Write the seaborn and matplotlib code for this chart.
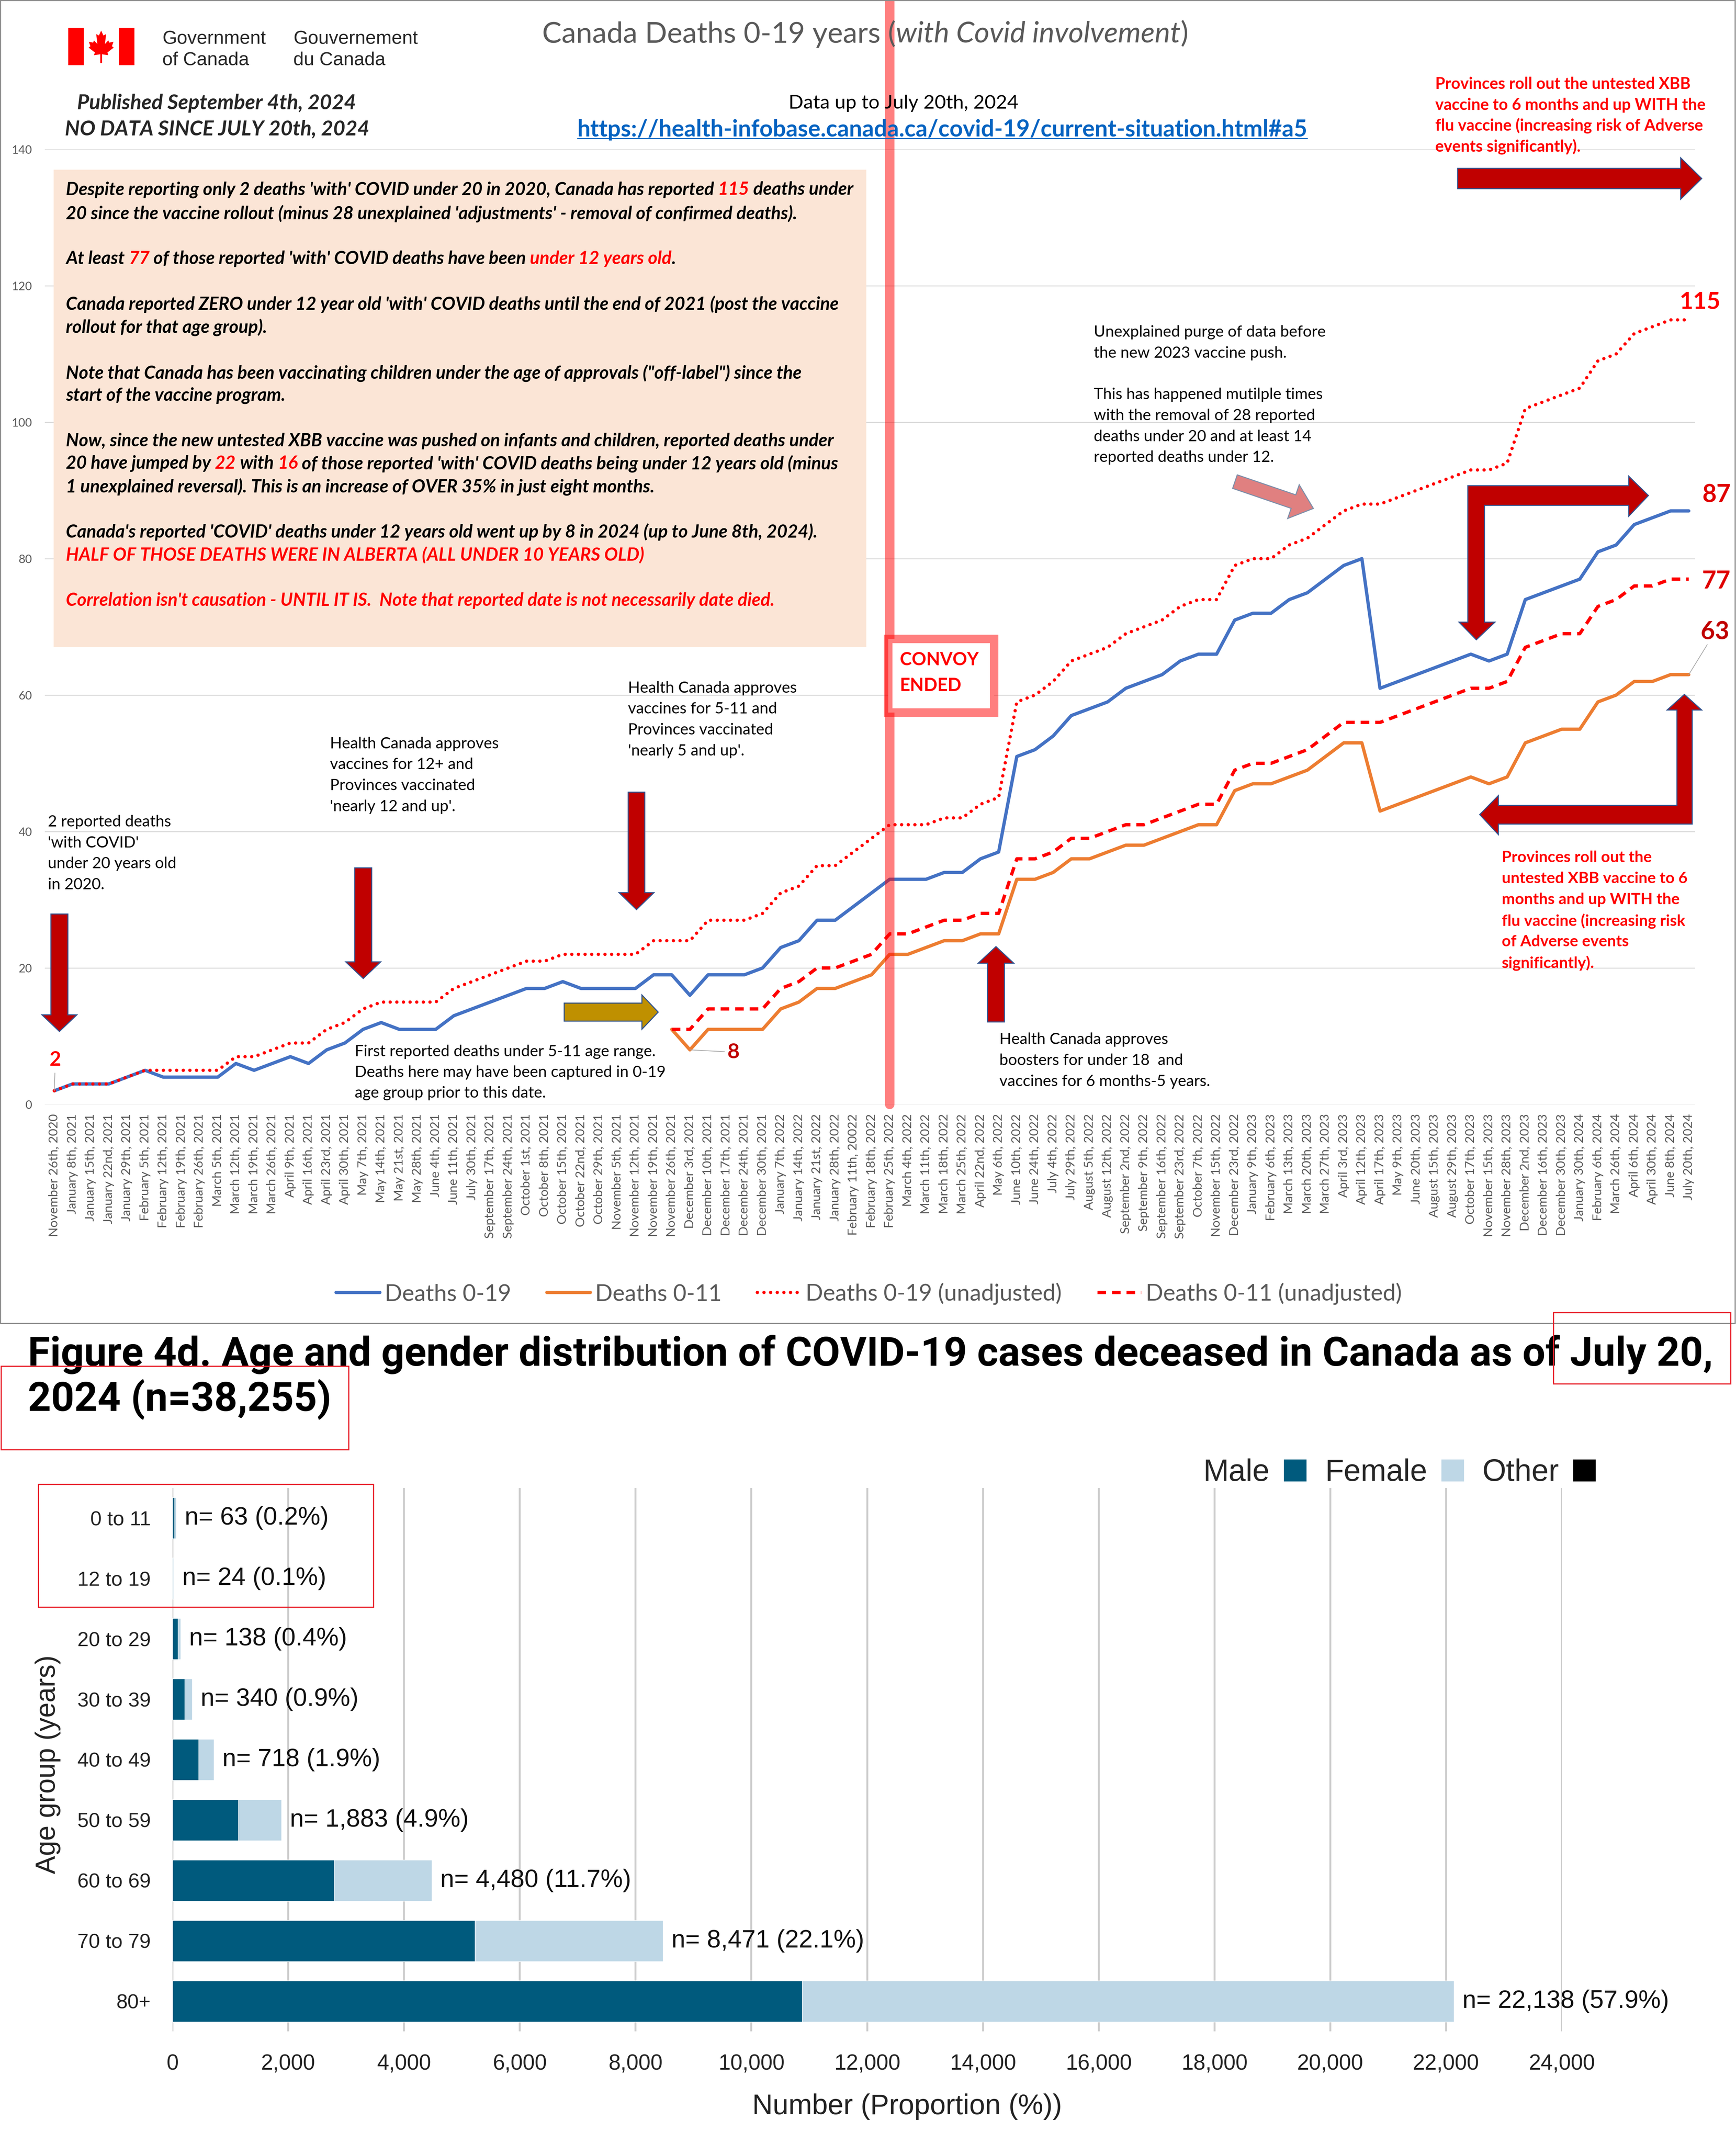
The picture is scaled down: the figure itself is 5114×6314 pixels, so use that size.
import matplotlib
matplotlib.use("Agg")
import matplotlib.pyplot as plt
from matplotlib import font_manager as fm
from matplotlib.patches import Polygon, Rectangle, Patch
from matplotlib.lines import Line2D
import numpy as np
import pandas as pd
import seaborn as sns

nan = np.nan
W, H = 5114, 6314

# ----------------------------------------------------------------- data
DATES = ["November 26th, 2020", "January 8th, 2021", "January 15th, 2021", "January 22nd, 2021",
         "January 29th, 2021", "February 5th, 2021", "February 12th, 2021", "February 19th, 2021",
         "February 26th, 2021", "March 5th, 2021", "March 12th, 2021", "March 19th, 2021",
         "March 26th, 2021", "April 9th, 2021", "April 16th, 2021", "April 23rd, 2021",
         "April 30th, 2021", "May 7th, 2021", "May 14th, 2021", "May 21st, 2021", "May 28th, 2021",
         "June 4th, 2021", "June 11th, 2021", "July 30th, 2021", "September 17th, 2021",
         "September 24th, 2021", "October 1st, 2021", "October 8th, 2021", "October 15th, 2021",
         "October 22nd, 2021", "October 29th, 2021", "November 5th, 2021", "November 12th, 2021",
         "November 19th, 2021", "November 26th, 2021", "December 3rd, 2021", "December 10th, 2021",
         "December 17th, 2021", "December 24th, 2021", "December 30th, 2021", "January 7th, 2022",
         "January 14th, 2022", "January 21st, 2022", "January 28th, 2022", "February 11th, 20022",
         "February 18th, 2022", "February 25th, 2022", "March 4th, 2022", "March 11th, 2022",
         "March 18th, 2022", "March 25th, 2022", "April 22nd, 2022", "May 6th, 2022",
         "June 10th, 2022", "June 24th, 2022", "July 4th, 2022", "July 29th, 2022",
         "August 5th, 2022", "August 12th, 2022", "September 2nd, 2022", "September 9th, 2022",
         "September 16th, 2022", "September 23rd, 2022", "October 7th, 2022", "November 15th, 2022",
         "December 23rd, 2022", "January 9th, 2023", "February 6th, 2023", "March 13th, 2023",
         "March 20th, 2023", "March 27th, 2023", "April 3rd, 2023", "April 12th, 2023",
         "April 17th, 2023", "May 9th, 2023", "June 20th, 2023", "August 15th, 2023",
         "August 29th, 2023", "October 17th, 2023", "November 15th, 2023", "November 28th, 2023",
         "December 2nd, 2023", "December 16th, 2023", "December 30th, 2023", "January 30th, 2024",
         "February 6th, 2024", "March 26th, 2024", "April 6th, 2024", "April 30th, 2024",
         "June 8th, 2024", "July 20th, 2024"]

DEATHS_0_19 = [2, 3, 3, 3, 4, 5, 4, 4, 4, 4,
               6, 5, 6, 7, 6, 8, 9, 11, 12, 11,
               11, 11, 13, 14, 15, 16, 17, 17, 18, 17,
               17, 17, 17, 19, 19, 16, 19, 19, 19, 20,
               23, 24, 27, 27, 29, 31, 33, 33, 33, 34,
               34, 36, 37, 51, 52, 54, 57, 58, 59, 61,
               62, 63, 65, 66, 66, 71, 72, 72, 74, 75,
               77, 79, 80, 61, 62, 63, 64, 65, 66, 65,
               66, 74, 75, 76, 77, 81, 82, 85, 86, 87, 87]

DEATHS_0_11 = [nan] * 34 + [11, 8, 11, 11, 11, 11, 14, 15, 17, 17, 18, 19, 22,
                            22, 23, 24, 24, 25, 25, 33, 33, 34, 36, 36, 37, 38, 38, 39, 40, 41, 41,
                            46, 47, 47, 48, 49, 51,
                            53, 53, 43, 44, 45, 46, 47, 48, 47, 48, 53, 54, 55, 55, 59, 60, 62, 62,
                            63, 63]

DEATHS_0_19_UNADJ = [2, 3, 3, 3, 4, 5, 5, 5, 5, 5,
                     7, 7, 8, 9, 9, 11, 12, 14, 15, 15,
                     15, 15, 17, 18, 19, 20, 21, 21, 22, 22,
                     22, 22, 22, 24, 24, 24, 27, 27, 27, 28,
                     31, 32, 35, 35, 37, 39, 41, 41, 41, 42,
                     42, 44, 45, 59, 60, 62, 65, 66, 67, 69,
                     70, 71, 73, 74, 74, 79, 80, 80, 82, 83,
                     85, 87, 88, 88, 89, 90, 91, 92, 93, 93,
                     94, 102, 103, 104, 105, 109, 110, 113, 114, 115, 115]

DEATHS_0_11_UNADJ = [nan] * 34 + [11, 11, 14, 14, 14, 14, 17, 18, 20, 20, 21, 22, 25,
                                  25, 26, 27, 27, 28, 28, 36, 36, 37, 39, 39, 40, 41, 41, 42,
                                  43, 44, 44, 49, 50, 50, 51, 52, 54,
                                  56, 56, 56, 57, 58, 59, 60, 61, 61, 62, 67, 68, 69, 69, 73,
                                  74, 76, 76, 77, 77]

Y_TICKS = [0, 20, 40, 60, 80, 100, 120, 140]

AGE_GROUPS = ["0 to 11", "12 to 19", "20 to 29", "30 to 39", "40 to 49",
              "50 to 59", "60 to 69", "70 to 79", "80+"]
MALE = [33, 12, 95, 213, 449, 1135, 2790, 5225, 10880]
FEMALE = [30, 12, 43, 127, 269, 748, 1690, 3246, 11258]
OTHER = [0, 0, 0, 0, 0, 0, 0, 0, 0]
TOTAL_N = [63, 24, 138, 340, 718, 1883, 4480, 8471, 22138]
PCT = ["0.2%", "0.1%", "0.4%", "0.9%", "1.9%", "4.9%", "11.7%", "22.1%", "57.9%"]
X_TICKS_BOTTOM = [0, 2000, 4000, 6000, 8000, 10000, 12000, 14000, 16000, 18000, 20000, 22000, 24000]

# ----------------------------------------------------------------- setup
sns.set_theme(style="white")
avail = {f.name for f in fm.fontManager.ttflist}


def pick(*names):
    for n in names:
        if n in avail:
            return n
    return "DejaVu Sans"


CAL = pick("Lato", "Open Sans", "Liberation Sans")
ARIAL = pick("Liberation Sans", "DejaVu Sans")
NARROW = pick("Liberation Sans Narrow", "Roboto", "Liberation Sans")
plt.rcParams["font.family"] = [CAL, "DejaVu Sans"]

fig = plt.figure(figsize=(W / 100, H / 100), dpi=100)
fig.patch.set_facecolor("white")
R = fig.canvas.get_renderer()


def fx(x):
    return x / W


def fy(y):
    return 1 - y / H


def tw(s, **kw):
    t = fig.text(0, 0, s, **kw)
    w = t.get_window_extent(renderer=R).width
    t.remove()
    return w


def fit(s, target, base=40, **kw):
    return base * target / tw(s, fontsize=base, **kw)


def seg_w(s, **kw):
    return tw("I" + s + "I", **kw) - tw("II", **kw)


def put(x, y, s, **kw):
    kw.setdefault("va", "center_baseline")
    return fig.text(fx(x), fy(y), s, **kw)


def rich(x, y, segs, ha="left", **kw):
    parts = []
    for s, o in segs:
        k = dict(kw)
        k.update(o)
        parts.append((s, k, seg_w(s, **k)))
    total = sum(p[2] for p in parts)
    if ha == "center":
        x -= total / 2
    for s, k, w in parts:
        core = s.strip()
        lead = s[: len(s) - len(s.lstrip())]
        off = seg_w(lead, **k) if lead else 0
        if core:
            put(x + off, y, core, ha="left", **k)
        x += w


def block(x, y0, dy, lines, **kw):
    for i, ln in enumerate(lines):
        if ln:
            put(x, y0 + i * dy, ln, **kw)


def arrow_pts(x0, y0, x1, y1, sw, hw, hl):
    d = np.array([x1 - x0, y1 - y0], float)
    L = np.hypot(*d)
    u = d / L
    n = np.array([-u[1], u[0]])
    p0 = np.array([x0, y0], float)
    pb = p0 + u * (L - hl)
    tip = np.array([x1, y1], float)
    return [p0 + n * sw / 2, pb + n * sw / 2, pb + n * hw / 2, tip,
            pb - n * hw / 2, pb - n * sw / 2, p0 - n * sw / 2]


def poly(pts, fc, ec="#2F528F", lw=2.2, z=4, alpha=1.0):
    fig.add_artist(Polygon([(fx(x), fy(y)) for x, y in pts], closed=True, fc=fc, ec=ec,
                           lw=lw, transform=fig.transFigure, zorder=z, alpha=alpha))


def rect(x0, y0, x1, y1, **kw):
    fig.add_artist(Rectangle((fx(x0), fy(y1)), (x1 - x0) / W, (y1 - y0) / H,
                             transform=fig.transFigure, **kw))


GRAY_T = "#595959"
RED = "#FF0000"
DRED = "#C00000"
ARROW_RED = "#C00000"

# ----------------------------------------------------------------- top frame
rect(1, 1, 5111, 3899, fill=False, ec="#8C8C8C", lw=2.5, zorder=1)

# ----------------------------------------------------------------- main line chart
ax = fig.add_axes([fx(132), fy(3254), (4993 - 132) / W, (3254 - 440) / H])
df = pd.DataFrame({"pos": np.arange(len(DATES)),
                   "Deaths 0-19": DEATHS_0_19,
                   "Deaths 0-11": DEATHS_0_11,
                   "Deaths 0-19 (unadjusted)": DEATHS_0_19_UNADJ,
                   "Deaths 0-11 (unadjusted)": DEATHS_0_11_UNADJ})
LW = 7.0
SERIES = [("Deaths 0-19", "#4472C4", "-"),
          ("Deaths 0-11", "#ED7D31", "-"),
          ("Deaths 0-19 (unadjusted)", RED, (0, (0.01, 2.0))),
          ("Deaths 0-11 (unadjusted)", RED, (0, (2.6, 1.8)))]
for name, col, ls in SERIES:
    sns.lineplot(data=df, x="pos", y=name, ax=ax, color=col, lw=LW, linestyle=ls,
                 dash_capstyle="round" if name == "Deaths 0-19 (unadjusted)" else "butt",
                 solid_joinstyle="round", zorder=3, legend=False)

ax.set_xlim(-0.523, 90.34)
ax.set_ylim(0, 140)
ax.set_xticks(range(len(DATES)))
xt_size = fit(DATES[0], 362, family=CAL)
ax.set_xticklabels(DATES, rotation=90, fontsize=xt_size, color=GRAY_T, family=CAL)
ax.set_yticks(Y_TICKS)
yt_size = fit("140", 60, family=CAL)
ax.set_yticklabels([str(v) for v in Y_TICKS], fontsize=yt_size, color=GRAY_T, family=CAL)
ax.tick_params(axis="x", length=0, pad=20)
ax.tick_params(axis="y", length=0, pad=27)
ax.grid(axis="y", color="#D9D9D9", lw=2)
ax.grid(axis="x", visible=False)
ax.set_axisbelow(True)
for s in ax.spines.values():
    s.set_visible(False)
ax.set_xlabel("")
ax.set_ylabel("")
ax.patch.set_alpha(0)

# convoy vertical line
ax.axvline(46, ymin=0, ymax=3254 / (3254 - 440), color=RED, alpha=0.5, lw=20,
           clip_on=False, zorder=5)

# legend
handles = [Line2D([], [], color=c, lw=LW, linestyle=ls,
                  dash_capstyle="round" if i == 2 else "butt")
           for i, (n, c, ls) in enumerate(SERIES)]
leg_size = fit("Deaths 0-19 (unadjusted)", 754, family=CAL)
fig.legend(handles, [s[0] for s in SERIES], loc="center", bbox_to_anchor=(fx(2560), fy(3812)),
           ncol=4, frameon=False, prop=dict(family=CAL, size=leg_size), labelcolor=GRAY_T,
           handlelength=1.9, columnspacing=1.55, handletextpad=0.2)

# ----------------------------------------------------------------- header
# flag
rect(201, 82, 247, 192, fc=RED, ec="none", zorder=2)
rect(350, 82, 396, 192, fc=RED, ec="none", zorder=2)
leaf_r = [(0, 1.0), (0.10, 0.78), (0.22, 0.84), (0.17, 0.40), (0.32, 0.56), (0.36, 0.46),
          (0.55, 0.50), (0.48, 0.30), (0.56, 0.24), (0.28, 0.02), (0.32, -0.10), (0.04, -0.06),
          (0.04, -0.45), (0, -0.45)]
leaf = leaf_r + [(-x, y) for x, y in reversed(leaf_r[1:-1])]
poly([(298 + 66 * x, 156 - 66 * y) for x, y in leaf], fc=RED, ec="none", lw=0, z=2)
gsize = fit("Government", 305, family=ARIAL)
put(478, 130, "Government", family=ARIAL, fontsize=gsize, va="baseline")
put(478, 192, "of Canada", family=ARIAL, fontsize=gsize, va="baseline")
put(864, 130, "Gouvernement", family=ARIAL, fontsize=gsize, va="baseline")
put(864, 192, "du Canada", family=ARIAL, fontsize=gsize, va="baseline")

bi = dict(family=CAL, weight="bold", style="italic")
psize = fit("Published September 4th, 2024", 821, **bi)
put(638, 322, "Published September 4th, 2024", ha="center", va="baseline", fontsize=psize, **bi)
put(640, 398, "NO DATA SINCE JULY 20th, 2024", ha="center", va="baseline", fontsize=psize, **bi)

# title
title_segs = [("Canada Deaths 0-19 years (", {}), ("with Covid involvement", {"style": "italic"}),
              (")", {})]
tsize = 40 * 1900 / sum(seg_w(s, family=CAL, fontsize=40, **o) for s, o in title_segs)
rich(2549, 93, title_segs, ha="center", family=CAL, fontsize=tsize, color=GRAY_T)

dsize = fit("Data up to July 20th, 2024", 677, family=CAL)
put(2662, 300, "Data up to July 20th, 2024", ha="center", family=CAL, fontsize=dsize, color="black")
URL = "https://health-infobase.canada.ca/covid-19/current-situation.html#a5"
usize = fit(URL, 2150, family=CAL, weight="bold")
ut = put(2776, 377, URL, ha="center", family=CAL, weight="bold", fontsize=usize, color="#0563C1")
ubb = ut.get_window_extent(renderer=R)
uy = (ubb.y0 + 0.1 * usize * 100 / 72) / H
fig.add_artist(Line2D([ubb.x0 / W, ubb.x1 / W], [uy, uy], color="#0563C1", lw=2.2,
                      transform=fig.transFigure))

# ----------------------------------------------------------------- text box
rect(158, 500, 2552, 1906, fc="#FBE5D6", ec="none", zorder=1)
K = {"color": "black"}
Rd = {"color": RED}
BOX = [
    (554, [("Despite reporting only 2 deaths 'with' COVID under 20 in 2020, Canada has reported ", K),
           ("115", Rd), (" deaths under", K)]),
    (624, [("20 since the vaccine rollout (minus 28 unexplained 'adjustments' - removal of confirmed deaths).", K)]),
    (758, [("At least ", K), ("77", Rd), (" of those reported 'with' COVID deaths have been ", K),
           ("under 12 years old", Rd), (".", K)]),
    (892, [("Canada reported ZERO under 12 year old 'with' COVID deaths until the end of 2021 (post the vaccine", K)]),
    (959, [("rollout for that age group).", K)]),
    (1094, [("Note that Canada has been vaccinating children under the age of approvals (\"off-label\") since the", K)]),
    (1161, [("start of the vaccine program.", K)]),
    (1295, [("Now, since the new untested XBB vaccine was pushed on infants and children, reported deaths under", K)]),
    (1361, [("20 have jumped by ", K), ("22", Rd), (" with ", K), ("16", Rd),
            (" of those reported 'with' COVID deaths being under 12 years old (minus", K)]),
    (1429, [("1 unexplained reversal). This is an increase of OVER 35% in just eight months.", K)]),
    (1563, [("Canada's reported 'COVID' deaths under 12 years old went up by 8 in 2024 (up to June 8th, 2024).", K)]),
    (1631, [("HALF OF THOSE DEATHS WERE IN ALBERTA (ALL UNDER 10 YEARS OLD)", Rd)]),
    (1765, [("Correlation isn't causation - UNTIL IT IS.  Note that reported date is not necessarily date died.", Rd)]),
]
bsize = fit("".join(s for s, _ in BOX[0][1]), 2319, **bi)
for y, segs in BOX:
    rich(194, y, segs, fontsize=bsize, **bi)

# ----------------------------------------------------------------- annotations
asize = fit("Health Canada approves", 497, family=CAL)
A = dict(family=CAL, fontsize=asize, color="black")
block(141, 2418, 61.5, ["2 reported deaths", "'with COVID'", "under 20 years old", "in 2020."], **A)
block(972, 2188, 61.5, ["Health Canada approves", "vaccines for 12+ and", "Provinces vaccinated",
                         "'nearly 12 and up'."], **A)
block(1850, 2024, 61.5, ["Health Canada approves", "vaccines for 5-11 and", "Provinces vaccinated",
                          "'nearly 5 and up'."], **A)
block(1045, 3095, 61, ["First reported deaths under 5-11 age range.",
                        "Deaths here may have been captured in 0-19",
                        "age group prior to this date."], **A)
block(2944, 3059, 62, ["Health Canada approves", "boosters for under 18  and",
                        "vaccines for 6 months-5 years."], **A)
block(3222, 975, 61.5, ["Unexplained purge of data before", "the new 2023 vaccine push.", "",
                         "This has happened mutilple times", "with the removal of 28 reported",
                         "deaths under 20 and at least 14", "reported deaths under 12."], **A)

rb = dict(family=CAL, weight="bold", color=RED)
r1 = fit("vaccine to 6 months and up WITH the", 795, family=CAL, weight="bold")
block(4228, 244, 61.5, ["Provinces roll out the untested XBB", "vaccine to 6 months and up WITH the",
                         "flu vaccine (increasing risk of Adverse", "events significantly)."],
      fontsize=r1, **rb)
r2 = fit("untested XBB vaccine to 6", 546, family=CAL, weight="bold")
block(4424, 2523, 62, ["Provinces roll out the", "untested XBB vaccine to 6", "months and up WITH the",
                        "flu vaccine (increasing risk", "of Adverse events", "significantly)."],
      fontsize=r2, **rb)

# convoy box
rect(2616, 1882, 2928, 2099, fc="white", ec=(1, 0, 0, 0.5), lw=18, zorder=2)
csize = fit("CONVOY", 232, family=CAL, weight="bold")
put(2651, 1940, "CONVOY", family=CAL, weight="bold", fontsize=csize, color=RED)
put(2651, 2016, "ENDED", family=CAL, weight="bold", fontsize=csize, color=RED)

# arrows
poly(arrow_pts(175, 2693, 175, 3039, 50, 103, 49), ARROW_RED)
poly(arrow_pts(1070, 2557, 1070, 2883, 50, 103, 49), ARROW_RED)
poly(arrow_pts(1875, 2334, 1875, 2680, 49, 103, 50), ARROW_RED)
poly(arrow_pts(2934, 3011, 2934, 2789, 50, 105, 49), ARROW_RED)
poly(arrow_pts(1662, 2982, 1939, 2982, 53, 101, 48), "#BF9000")
poly(arrow_pts(4294, 526, 5013, 526, 60, 122, 62), ARROW_RED)
poly(arrow_pts(3638, 1419, 3869, 1498, 42, 105, 62), "#E08080", ec="#7F8FA9")
poly([(4324, 1431), (4798, 1431), (4798, 1403), (4856, 1460), (4798, 1521), (4798, 1489),
      (4373, 1489), (4373, 1833), (4404, 1833), (4349, 1885), (4298, 1833), (4324, 1833)],
     ARROW_RED)
poly([(4985, 2428), (4414, 2428), (4414, 2459), (4359, 2400), (4414, 2344), (4414, 2373),
      (4940, 2373), (4940, 2092), (4911, 2092), (4962, 2046), (5013, 2092), (4985, 2092)],
     ARROW_RED)

# value labels
nb = dict(family=CAL, weight="bold")
put(5008, 884, "115", ha="center", fontsize=fit("115", 121, **nb), color=RED, **nb)
n2 = fit("87", 84, **nb)
put(5056, 1452, "87", ha="center", fontsize=n2, color="#E00000", **nb)
put(5056, 1707, "77", ha="center", fontsize=n2, color="#E00000", **nb)
ax.annotate("63", xy=(90, 63), xytext=(fx(5052), fy(1856)), textcoords="figure fraction",
            ha="center", va="center_baseline", fontsize=n2, color=DRED, **nb,
            arrowprops=dict(arrowstyle="-", color="#A6A6A6", lw=1.5, shrinkA=0, shrinkB=0),
            annotation_clip=False)
ax.annotate("8", xy=(35, 8), xytext=(fx(2161), fy(3095)), textcoords="figure fraction",
            ha="center", va="center_baseline", fontsize=fit("8", 36, **nb), color=DRED, **nb,
            arrowprops=dict(arrowstyle="-", color="#A6A6A6", lw=1.5, shrinkA=4, shrinkB=0),
            annotation_clip=False)
ax.annotate("2", xy=(0, 2), xytext=(fx(163), fy(3118)), textcoords="figure fraction",
            ha="center", va="center_baseline", fontsize=fit("2", 34, **nb), color=RED, **nb,
            arrowprops=dict(arrowstyle="-", color="#A6A6A6", lw=1.5, shrinkA=6, shrinkB=0),
            annotation_clip=False)

# ----------------------------------------------------------------- bottom section
fb = dict(family=NARROW, weight="bold")
f4 = fit("Figure 4d. Age and gender distribution of COVID-19 cases deceased in Canada as of July 20,",
         4957, **fb)
put(82, 4024, "Figure 4d. Age and gender distribution of COVID-19 cases deceased in Canada as of July 20,",
    va="baseline", fontsize=f4, color="black", **fb)
put(82, 4158, "2024 (n=38,255)", va="baseline", fontsize=f4, color="black", **fb)

BOXRED = "#E8202A"
rect(4576, 3867, 5098, 4077, fill=False, ec=BOXRED, lw=2.5, zorder=4)
rect(3, 4025, 1027, 4271, fill=False, ec=BOXRED, lw=2.5, zorder=4)
rect(113, 4373, 1100, 4735, fill=False, ec=BOXRED, lw=2.5, zorder=4)

MALE_C = "#005A7D"
FEMALE_C = "#BED7E6"
bx = fig.add_axes([fx(508), fy(5985), (4601 - 508) / W, (5985 - 4384) / H])
bdf = pd.DataFrame({"age": AGE_GROUPS, "male": MALE, "female": FEMALE, "other": OTHER})
bdf["male_female"] = bdf["male"] + bdf["female"]
bdf["all"] = bdf["male_female"] + bdf["other"]
for col, c in [("all", "black"), ("male_female", FEMALE_C), ("male", MALE_C)]:
    sns.barplot(data=bdf, x=col, y="age", orient="y", color=c, saturation=1, width=0.68,
                errorbar=None, ax=bx, zorder=3)
bx.set_xlim(0, 24000)
bx.set_ylim(len(AGE_GROUPS) - 0.5, -0.5)
bx.set_xticks(X_TICKS_BOTTOM)
bx.set_xticklabels([f"{v:,}" for v in X_TICKS_BOTTOM], fontsize=46, family=ARIAL, color="#222222")
bx.set_yticks(range(len(AGE_GROUPS)))
bx.set_yticklabels(AGE_GROUPS, fontsize=43, family=ARIAL, color="#222222")
bx.tick_params(axis="x", length=0, pad=48)
bx.tick_params(axis="y", length=0, pad=46)
bx.grid(axis="x", color="#CCCCCC", lw=4)
bx.grid(axis="y", visible=False)
bx.set_axisbelow(True)
for s in bx.spines.values():
    s.set_visible(False)
bx.set_xlabel("")
bx.set_ylabel("")
for i, (tot, n, p) in enumerate(zip(bdf["all"], TOTAL_N, PCT)):
    bx.annotate(f"n= {n:,} ({p})", xy=(tot, i), xytext=(18, 0), textcoords="offset points",
                ha="left", va="center", fontsize=53, family=ARIAL, color="#111111",
                annotation_clip=False)

put(2672, 6198, "Number (Proportion (%))", ha="center", family=ARIAL, fontsize=60, color="#222222")
put(141, 5199, "Age group (years)", ha="center", va="center", rotation=90, family=ARIAL,
    fontsize=58, color="#222222")

lh = [Patch(fc=MALE_C), Patch(fc=FEMALE_C), Patch(fc="black")]
bx.legend(lh, ["Male", "Female", "Other"], loc="center", bbox_to_anchor=(fx(4123), fy(4340)),
          bbox_transform=fig.transFigure, ncol=3, markerfirst=False, frameon=False,
          prop=dict(family=ARIAL, size=65), handlelength=0.75, handleheight=0.75,
          handletextpad=0.45, columnspacing=0.6)

fig.savefig("out.png", dpi=100, facecolor="white")
